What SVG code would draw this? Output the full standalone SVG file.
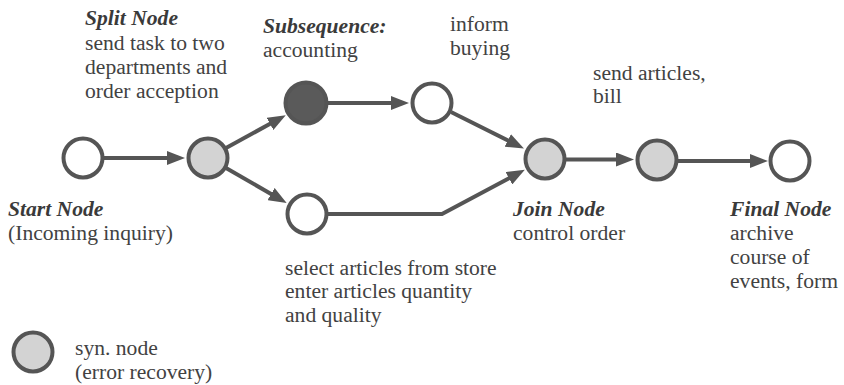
<svg xmlns="http://www.w3.org/2000/svg" width="844" height="385" viewBox="0 0 844 385" font-family="'Liberation Serif', 'DejaVu Serif', serif">
  <style>
    text { font-family: 'Liberation Serif', 'DejaVu Serif', serif; font-size: 21.6px; fill: #424242; }
    .title { font-weight: bold; font-style: italic; fill: #3a3a3a; }
    .node { stroke: #555555; stroke-width: 4; }
    .plain { fill: #ffffff; }
    .syn { fill: #d3d3d3; }
    .sub { fill: #5a5a5a; }
    .edge { fill: none; stroke: #555555; stroke-width: 4; marker-end: url(#arrow); }
  </style>
  <defs>
    <marker id="arrow" markerUnits="userSpaceOnUse" markerWidth="18" markerHeight="14" refX="8" refY="7" orient="auto">
      <path d="M0,0 L18,7 L0,14 Z" fill="#555555"/>
    </marker>
  </defs>
  <rect width="844" height="385" fill="#ffffff"/>

  <!-- connectors -->
  <g id="connectors">
    <path class="edge" d="M104,158 L175,158"/>
    <path class="edge" d="M226,148 L277,120"/>
    <path class="edge" d="M226,168 L278,198"/>
    <path class="edge" d="M328,103 L399,103"/>
    <path class="edge" d="M451,112 L515,144"/>
    <path class="edge" d="M328,214 L442,214 L516,174.5"/>
    <path class="edge" d="M566,159.5 L624,159.5"/>
    <path class="edge" d="M678,161 L758,161"/>
  </g>

  <g id="start">
    <circle class="node plain" cx="83" cy="158" r="19.5"/>
    <text class="title" x="8" y="216">Start Node</text>
    <text x="8" y="240">(Incoming inquiry)</text>
  </g>

  <g id="split">
    <circle class="node syn" cx="208" cy="158" r="19.5"/>
    <text class="title" x="85" y="25">Split Node</text>
    <text x="85" y="50">send task to two</text>
    <text x="85" y="74">departments and</text>
    <text x="85" y="98">order acception</text>
  </g>

  <g id="accounting">
    <circle class="node sub" cx="306" cy="103" r="20.5"/>
    <text class="title" x="263" y="33">Subsequence:</text>
    <text x="263" y="57">accounting</text>
  </g>

  <g id="inform">
    <circle class="node plain" cx="432" cy="103" r="19.5"/>
    <text x="450" y="31">inform</text>
    <text x="450" y="55">buying</text>
  </g>

  <g id="select">
    <circle class="node plain" cx="307" cy="214" r="19.5"/>
    <text x="285" y="275">select articles from store</text>
    <text x="285" y="298">enter articles quantity</text>
    <text x="285" y="322">and quality</text>
  </g>

  <g id="join">
    <circle class="node syn" cx="545" cy="159" r="19.5"/>
    <text class="title" x="513" y="216">Join Node</text>
    <text x="513" y="240">control order</text>
  </g>

  <g id="send">
    <circle class="node syn" cx="657" cy="160" r="19.5"/>
    <text x="593" y="80">send articles,</text>
    <text x="593" y="103">bill</text>
  </g>

  <g id="final">
    <circle class="node plain" cx="790" cy="161" r="19.5"/>
    <text class="title" x="730" y="216">Final Node</text>
    <text x="730" y="240">archive</text>
    <text x="730" y="264">course of</text>
    <text x="730" y="288">events, form</text>
  </g>

  <g id="legend">
    <circle class="node syn" cx="33" cy="352" r="19.5"/>
    <text x="75" y="355">syn. node</text>
    <text x="75" y="379">(error recovery)</text>
  </g>
</svg>
